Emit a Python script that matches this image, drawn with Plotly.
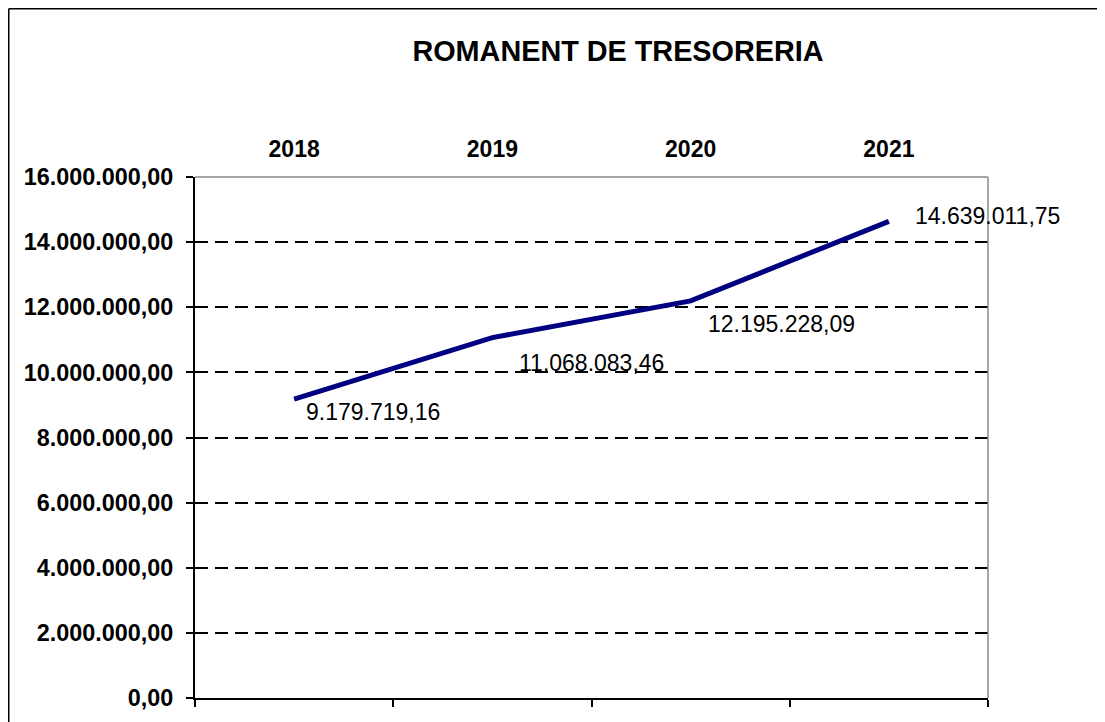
import plotly.graph_objects as go

years = ["2018", "2019", "2020", "2021"]
values = [9179719.16, 11068083.46, 12195228.09, 14639011.75]
title_text = "ROMANENT DE TRESORERIA"


def fmt(v):
    s = f"{v:,.2f}"
    return s.replace(",", "X").replace(".", ",").replace("X", ".")


labels = [fmt(v) for v in values]
label_shifts = [(10, -13), (25, -25), (15, -23), (24, 5)]

FONT = "Liberation Sans, Arial, sans-serif"

fig = go.Figure()
fig.add_trace(go.Scatter(
    x=years, y=values, mode="lines",
    line=dict(color="#000080", width=5),
    xaxis="x", yaxis="y", showlegend=False, hoverinfo="skip",
))
fig.add_trace(go.Scatter(
    x=years, y=values, mode="lines", opacity=0,
    line=dict(width=0), xaxis="x2", yaxis="y",
    showlegend=False, hoverinfo="skip",
))

for i, (v, lab, (dx, dy)) in enumerate(zip(values, labels, label_shifts)):
    fig.add_annotation(
        x=i, y=v, xref="x", yref="y", text=lab, showarrow=False,
        xanchor="left", yanchor="middle", xshift=dx, yshift=dy,
        font=dict(family=FONT, size=23, color="black"),
    )

W, H = 1097, 714
L, R, T, B = 187, 117, 169, 24
pw, ph = W - L - R, H - T - B
fx = (0.75 - L) / pw
fy = (H - B - 0.75) / ph

shapes = [
    dict(type="line", xref="paper", yref="paper", x0=0, x1=1, y0=1, y1=1,
         line=dict(color="#888888", width=1.5), layer="above"),
    dict(type="line", xref="paper", yref="paper", x0=1, x1=1, y0=0, y1=1,
         line=dict(color="#888888", width=1.5), layer="above"),
    dict(type="line", xref="paper", yref="paper", x0=fx, x1=fx, y0=-0.2, y1=fy,
         line=dict(color="black", width=1.5)),
    dict(type="line", xref="paper", yref="paper", x0=fx, x1=1.5, y0=fy, y1=fy,
         line=dict(color="black", width=1.5)),
]

fig.update_layout(
    width=W, height=H,
    margin=dict(l=L, r=R, t=T, b=B),
    paper_bgcolor="white", plot_bgcolor="white",
    separators=",.",
    font=dict(family=FONT, color="black"),
    title=dict(text="<b>" + title_text + "</b>", x=610 / W, xanchor="center",
               y=1 - 43 / H, yanchor="middle",
               font=dict(family=FONT, size=28.8, color="black")),
    xaxis=dict(type="category", side="top", range=[-0.5, 3.5],
               showline=False, showgrid=False, zeroline=False,
               ticks="outside", ticklen=10, tickcolor="rgba(0,0,0,0)",
               tickfont=dict(family=FONT, size=23, color="black", weight="bold")),
    xaxis2=dict(type="category", overlaying="x", side="bottom", anchor="y",
                range=[-0.5, 3.5], tickson="boundaries",
                ticks="outside", ticklen=7, tickwidth=2, tickcolor="black",
                showline=True, linecolor="black", linewidth=2,
                showticklabels=False, showgrid=False, zeroline=False),
    yaxis=dict(range=[0, 16000000], dtick=2000000, tick0=0,
               tickformat=",.2f",
               showgrid=True, griddash="13px,7px", gridcolor="black", gridwidth=1.5,
               showline=True, linecolor="black", linewidth=2,
               ticks="outside", ticklen=7, tickwidth=1.5, tickcolor="black",
               ticklabelstandoff=8, zeroline=False,
               tickfont=dict(family=FONT, size=23.4, color="black", weight="bold")),
    shapes=shapes,
)

fig.write_html("out.html")
